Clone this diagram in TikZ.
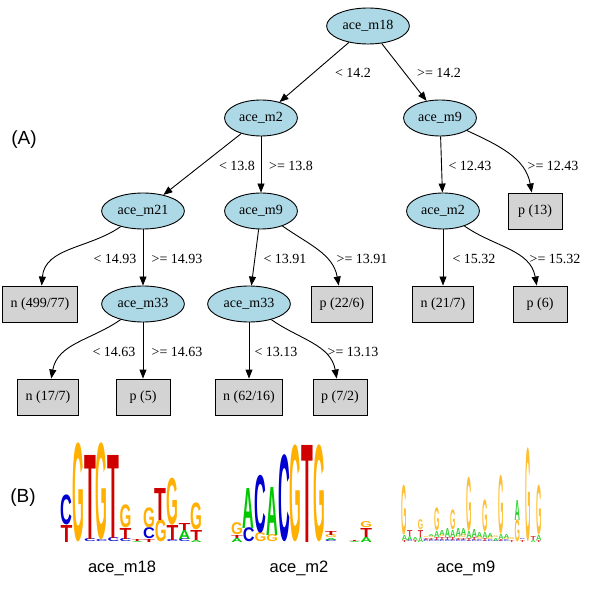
\documentclass[tikz,border=0pt]{standalone}
\usepackage{fontspec}
\setmainfont{Liberation Serif}
\setsansfont{Liberation Sans}
\usetikzlibrary{arrows.meta,shapes.geometric}
\definecolor{nodeblue}{HTML}{ADD8E6}
\definecolor{leafgray}{HTML}{D3D3D3}
\definecolor{lgG}{HTML}{FFB000}
\definecolor{lgT}{HTML}{D00000}
\definecolor{lgC}{HTML}{0000D0}
\definecolor{lgA}{HTML}{00C800}
\newcommand{\logofont}{\sffamily\bfseries}
\def\lgxo{0}\def\lgdx{1}\def\lgop{1}
% #1 column index, #2 bottom (image y), #3 top (image y), #4 letter
\newcommand{\LL}[4]{%
  \pgfmathsetmacro{\lgx}{\lgxo+\lgdx*#1}%
  \pgfmathsetmacro{\lgy}{598-#2}%
  \pgfmathsetmacro{\lgh}{#2-#3}%
  \node[anchor=south,inner sep=0pt,outer sep=0pt,text=lg#4,text opacity=\lgop] at (\lgx,\lgy) {\resizebox*{\lgdx pt}{\lgh pt}{\logofont #4}};%
}
\tikzset{
  inner/.style={ellipse, draw=black, line width=0.9pt, fill=nodeblue, minimum height=36pt, inner xsep=4pt, inner ysep=2pt, font=\fontsize{14}{16}\selectfont},
  leaf/.style={rectangle, draw=black, line width=0.9pt, fill=leafgray, minimum width=54pt, minimum height=36pt, inner xsep=8pt, font=\fontsize{14}{16}\selectfont},
  edge/.style={line width=0.9pt, -{Triangle[length=9pt,width=7pt]}},
  elabel/.style={inner sep=0pt, font=\fontsize{14}{16}\selectfont},
  panel/.style={inner sep=0pt, font=\sffamily\fontsize{19}{22}\selectfont},
  logolabel/.style={inner sep=0pt, anchor=base, font=\sffamily\fontsize{16.5}{19}\selectfont}
}
\begin{document}
\begin{tikzpicture}[x=1pt,y=1pt]
\useasboundingbox (0,0) rectangle (600,598);
\fill[white] (0,0) rectangle (600,598);
% ---- tree nodes
\node[inner] (m18) at (368,572) {ace\_m18};
\node[inner] (m2) at (261,480) {ace\_m2};
\node[inner] (m9R) at (440,480) {ace\_m9};
\node[inner] (m21) at (143,387) {ace\_m21};
\node[inner] (m9M) at (261,387) {ace\_m9};
\node[inner] (m2R) at (443,387) {ace\_m2};
\node[leaf] (p13) at (535,387) {p (13)};
\node[leaf] (n499) at (40,294) {n (499/77)};
\node[inner] (m33L) at (143,294) {ace\_m33};
\node[inner] (m33M) at (249,294) {ace\_m33};
\node[leaf] (p226) at (342,294) {p (22/6)};
\node[leaf] (n217) at (443,294) {n (21/7)};
\node[leaf] (p6) at (540,294) {p (6)};
\node[leaf] (n177) at (48,201) {n (17/7)};
\node[leaf] (p5) at (143,201) {p (5)};
\node[leaf] (n6216) at (249,201) {n (62/16)};
\node[leaf] (p72) at (340,201) {p (7/2)};
% ---- edges
\draw[edge] (m18) -- (m2);
\draw[edge] (m18) -- (m9R);
\draw[edge] (m2) -- (m21);
\draw[edge] (m2) -- (m9M);
\draw[edge] (m9R) -- (m2R);
\draw[edge] (m9R) to[out=-25,in=100] (p13);
\draw[edge] (m21) to[out=-145,in=85] (n499);
\draw[edge] (m21) -- (m33L);
\draw[edge] (m9M) -- (m33M);
\draw[edge] (m9M) to[out=-35,in=100] (p226);
\draw[edge] (m2R) -- (n217);
\draw[edge] (m2R) to[out=-35,in=100] (p6);
\draw[edge] (m33L) to[out=-145,in=80] (n177);
\draw[edge] (m33L) -- (p5);
\draw[edge] (m33M) -- (n6216);
\draw[edge] (m33M) to[out=-35,in=100] (p72);
% ---- edge labels
\node[elabel] (l1) at (353,525) {< 14.2};
\node[elabel] (l2) at (439,525) {>= 14.2};
\node[elabel] (l3) at (237,432) {< 13.8};
\node[elabel] (l4) at (291,432) {>= 13.8};
\node[elabel] (l5) at (470,432) {< 12.43};
\node[elabel] (l6) at (553,432) {>= 12.43};
\node[elabel] (l7) at (115,339) {< 14.93};
\node[elabel] (l8) at (177,339) {>= 14.93};
\node[elabel] (l9) at (285,339) {< 13.91};
\node[elabel] (l10) at (362,339) {>= 13.91};
\node[elabel] (l11) at (474,339) {< 15.32};
\node[elabel] (l12) at (555,339) {>= 15.32};
\node[elabel] (l13) at (114,246) {< 14.63};
\node[elabel] (l14) at (177,246) {>= 14.63};
\node[elabel] (l15) at (276,246) {< 13.13};
\node[elabel] (l16) at (353,246) {>= 13.13};
% ---- panel labels
\node[panel] (pa) at (24,458) {(A)};
\node[panel] (pb) at (23,100) {(B)};
% ---- logo 1
\def\lgxo{66.4}\def\lgdx{11.8}\def\lgop{1}
\LL{0}{542}{525}{T}\LL{0}{525}{495}{C}
\LL{1}{542}{443}{G}
\LL{2}{542}{539}{C}\LL{2}{539}{455}{T}
\LL{3}{542}{540}{C}\LL{3}{540}{443}{G}
\LL{4}{542}{538}{C}\LL{4}{538}{455}{T}
\LL{5}{542}{539}{C}\LL{5}{539}{528}{T}\LL{5}{528}{505}{G}
\LL{6}{542}{541}{A}\LL{6}{541}{539}{T}
\LL{7}{542}{539}{T}\LL{7}{539}{528}{C}\LL{7}{528}{508}{G}
\LL{8}{542}{520}{G}\LL{8}{520}{488}{T}
\LL{9}{542}{540}{C}\LL{9}{540}{525}{T}\LL{9}{525}{478}{G}
\LL{10}{542}{539}{C}\LL{10}{539}{530}{A}\LL{10}{530}{523}{T}
\LL{11}{542}{540}{A}\LL{11}{540}{530}{T}\LL{11}{530}{503}{G}
% ---- logo 2
\def\lgxo{236.9}\def\lgdx{11.75}
\LL{0}{542}{538}{A}\LL{0}{538}{535}{T}\LL{0}{535}{523}{G}
\LL{1}{542}{528}{C}\LL{1}{528}{488}{A}
\LL{2}{542}{533}{G}\LL{2}{533}{475}{C}
\LL{3}{542}{535}{G}\LL{3}{535}{487}{A}
\LL{4}{542}{455}{C}
\LL{5}{542}{445}{G}
\LL{6}{542}{445}{T}
\LL{7}{542}{445}{G}
\LL{8}{542}{540}{C}\LL{8}{540}{538}{A}\LL{8}{538}{535}{G}\LL{8}{535}{531}{T}
\LL{10}{542}{541}{A}\LL{10}{541}{540}{T}
\LL{11}{542}{537}{A}\LL{11}{537}{528}{T}\LL{11}{528}{522}{G}
% ---- logo 3
\def\lgxo{404.5}\def\lgdx{5.37}\def\lgop{0.8}
\LL{0}{542}{540}{T}\LL{0}{540}{535}{A}\LL{0}{535}{485}{G}
\LL{1}{542}{540}{C}\LL{1}{540}{536}{A}\LL{1}{536}{530}{T}
\LL{2}{542}{540}{T}\LL{2}{540}{537}{A}
\LL{3}{542}{537}{A}\LL{3}{537}{530}{T}\LL{3}{530}{520}{G}
\LL{4}{542}{540}{C}\LL{4}{540}{538}{T}\LL{4}{538}{537}{G}
\LL{5}{542}{540}{C}\LL{5}{540}{538}{T}\LL{5}{538}{536}{G}\LL{5}{536}{534}{A}
\LL{6}{542}{540}{C}\LL{6}{540}{537}{T}\LL{6}{537}{531}{A}\LL{6}{531}{508}{G}
\LL{7}{542}{540}{C}\LL{7}{540}{537}{T}\LL{7}{537}{535}{G}\LL{7}{535}{530}{A}
\LL{8}{542}{540}{C}\LL{8}{540}{537}{T}\LL{8}{537}{528}{A}
\LL{9}{542}{540}{C}\LL{9}{540}{537}{T}\LL{9}{537}{530}{A}\LL{9}{530}{510}{G}
\LL{10}{542}{540}{C}\LL{10}{540}{538}{T}\LL{10}{538}{536}{G}\LL{10}{536}{528}{A}
\LL{11}{542}{540}{C}\LL{11}{540}{538}{T}\LL{11}{538}{535}{G}\LL{11}{535}{528}{A}
\LL{12}{542}{541}{C}\LL{12}{541}{538}{T}\LL{12}{538}{531}{A}\LL{12}{531}{477}{G}
\LL{13}{542}{540}{C}\LL{13}{540}{537}{T}\LL{13}{537}{529}{A}
\LL{14}{542}{540}{C}\LL{14}{540}{537}{G}\LL{14}{537}{532}{A}
\LL{15}{542}{541}{C}\LL{15}{541}{538}{T}\LL{15}{538}{532}{A}\LL{15}{532}{500}{G}
\LL{16}{542}{540}{C}\LL{16}{540}{537}{G}\LL{16}{537}{533}{A}
\LL{17}{542}{541}{C}\LL{17}{541}{538}{A}\LL{17}{538}{536}{G}
\LL{18}{542}{541}{C}\LL{18}{541}{539}{T}\LL{18}{539}{534}{A}\LL{18}{534}{475}{G}
\LL{19}{542}{540}{C}\LL{19}{540}{538}{G}\LL{19}{538}{534}{A}
\LL{20}{542}{540}{T}\LL{20}{540}{538}{G}
\LL{21}{542}{520}{G}\LL{21}{520}{500}{A}
\LL{22}{542}{540}{T}\LL{22}{540}{539}{C}
\LL{23}{542}{448}{G}
\LL{24}{542}{540}{A}\LL{24}{540}{536}{T}
\LL{25}{542}{540}{T}\LL{25}{540}{535}{A}\LL{25}{535}{485}{G}
% ---- logo labels
\node[logolabel] (t1) at (122,26) {ace\_m18};
\node[logolabel] (t2) at (299,26) {ace\_m2};
\node[logolabel] (t3) at (466,26) {ace\_m9};
\end{tikzpicture}
\end{document}
